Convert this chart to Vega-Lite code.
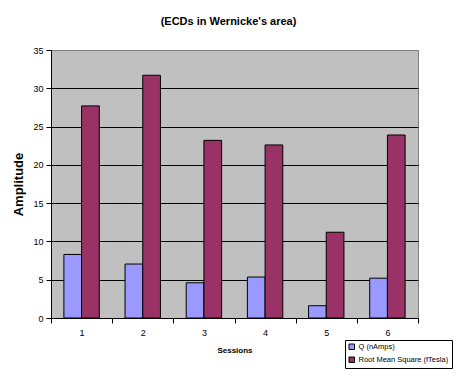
{
  "$schema": "https://vega.github.io/schema/vega-lite/v6.json",
  "width": 367,
  "height": 268,
  "autosize": {"type": "none"},
  "padding": {"left": 51, "top": 50, "right": 38, "bottom": 58},
  "background": "white",
  "title": {
    "text": "(ECDs in Wernicke's area)",
    "font": "Liberation Sans",
    "fontSize": 11,
    "fontWeight": "bold",
    "color": "black",
    "anchor": "middle",
    "offset": 19,
    "dx": -6
  },
  "data": {
    "values": [
      {"session": "1", "series": "Q (nAmps)", "value": 8.3},
      {"session": "1", "series": "Root Mean Square (fTesla)", "value": 27.7},
      {"session": "2", "series": "Q (nAmps)", "value": 7.05},
      {"session": "2", "series": "Root Mean Square (fTesla)", "value": 31.7},
      {"session": "3", "series": "Q (nAmps)", "value": 4.6},
      {"session": "3", "series": "Root Mean Square (fTesla)", "value": 23.2},
      {"session": "4", "series": "Q (nAmps)", "value": 5.35},
      {"session": "4", "series": "Root Mean Square (fTesla)", "value": 22.6},
      {"session": "5", "series": "Q (nAmps)", "value": 1.6},
      {"session": "5", "series": "Root Mean Square (fTesla)", "value": 11.2},
      {"session": "6", "series": "Q (nAmps)", "value": 5.2},
      {"session": "6", "series": "Root Mean Square (fTesla)", "value": 23.9}
    ]
  },
  "mark": {"type": "bar", "stroke": "black", "strokeWidth": 1},
  "encoding": {
    "x": {
      "field": "session",
      "type": "nominal",
      "scale": {"paddingInner": 0, "paddingOuter": 0},
      "axis": {
        "title": "Sessions",
        "titleFont": "Liberation Sans",
        "titleFontSize": 8,
        "titleFontWeight": "bold",
        "titleColor": "black",
        "titlePadding": 9,
        "labelAngle": 0,
        "labelFont": "Liberation Sans",
        "labelFontSize": 9,
        "labelColor": "black",
        "labelPadding": 5,
        "tickBand": "extent",
        "tickColor": "black",
        "tickSize": 5,
        "domainColor": "black",
        "grid": false
      }
    },
    "xOffset": {
      "field": "series",
      "type": "nominal",
      "scale": {"paddingInner": 0, "paddingOuter": 0.728}
    },
    "y": {
      "field": "value",
      "type": "quantitative",
      "scale": {"domain": [0, 35], "nice": false},
      "axis": {
        "title": "Amplitude",
        "titleFont": "Liberation Sans",
        "titleFontSize": 13,
        "titleFontWeight": "bold",
        "titleColor": "black",
        "titlePadding": 7,
        "values": [0, 5, 10, 15, 20, 25, 30, 35],
        "labelFont": "Liberation Sans",
        "labelFontSize": 9,
        "labelColor": "black",
        "labelPadding": 3,
        "tickColor": "black",
        "tickSize": 5,
        "domainColor": "black",
        "grid": true,
        "gridColor": {"condition": {"test": "datum.value === 35", "value": "#808080"}, "value": "black"},
        "gridOpacity": 1,
        "gridWidth": 1
      }
    },
    "color": {
      "field": "series",
      "type": "nominal",
      "scale": {"domain": ["Q (nAmps)", "Root Mean Square (fTesla)"], "range": ["#9999FF", "#993366"]},
      "legend": {
        "title": null,
        "orient": "none",
        "legendX": 294,
        "legendY": 290,
        "direction": "vertical",
        "symbolType": "square",
        "symbolSize": 30,
        "symbolStrokeColor": "black",
        "symbolStrokeWidth": 1,
        "labelFont": "Liberation Sans",
        "labelFontSize": 7.5,
        "labelColor": "black",
        "labelOffset": 3,
        "rowPadding": 3,
        "padding": 3,
        "strokeColor": "black",
        "fillColor": "white"
      }
    }
  },
  "config": {
    "view": {"fill": "#C0C0C0", "stroke": "#808080"}
  }
}
